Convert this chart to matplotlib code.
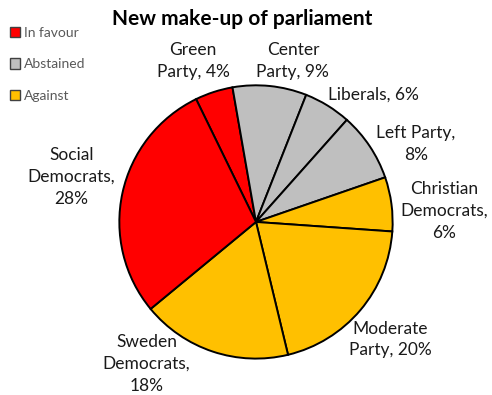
import matplotlib.pyplot as plt
from matplotlib.patches import Patch

# 2018 Swedish general election, vote shares (%)
parties = ["Green\nParty", "Center\nParty", "Liberals", "Left Party,",
           "Christian\nDemocrats,", "Moderate\nParty", "Sweden\nDemocrats,",
           "Social\nDemocrats,"]
shares = [4.4, 8.6, 5.5, 8.0, 6.3, 19.8, 17.5, 28.3]
stance = ["In favour", "Abstained", "Abstained", "Abstained",
          "Against", "Against", "Against", "In favour"]

stance_colors = {"In favour": "#FF0000", "Abstained": "#BFBFBF", "Against": "#FFC000"}

# where each label sits (pie radius = 1)
label_pos = [(-0.46, 1.18), (0.27, 1.18), (0.86, 0.93), (1.17, 0.57),
             (1.38, 0.08), (0.98, -0.86), (-0.80, -1.04), (-1.35, 0.33)]

plt.rcParams["font.family"] = ["Lato", "DejaVu Sans"]

fig = plt.figure(figsize=(4.92, 3.95), dpi=100)
ax = fig.add_axes([0.2398, 0.0886, 0.561, 0.699])

colors = [stance_colors[s] for s in stance]
ax.pie(shares, colors=colors, startangle=116, counterclock=False,
       wedgeprops={"edgecolor": "black", "linewidth": 1.4})
ax.set_xlim(-1.01, 1.01)
ax.set_ylim(-1.01, 1.01)

for name, val, (x, y) in zip(parties, shares, label_pos):
    pct = f"{round(val)}%"
    if name.endswith(","):
        txt = f"{name}\n{pct}"
    else:
        txt = f"{name}, {pct}"
    ax.text(x, y, txt, ha="center", va="center", fontsize=12.5,
            color="#1a1a1a", linespacing=1.45, clip_on=False)

fig.text(0.492, 0.952, "New make-up of parliament", ha="center", va="center",
         fontsize=15, fontweight="bold")

handles = [Patch(facecolor=c, edgecolor="#404040", label=s)
           for s, c in stance_colors.items()]
fig.legend(handles=handles, loc="upper left", bbox_to_anchor=(0.0, 0.957),
           frameon=False, fontsize=10, labelcolor="#595959",
           handlelength=0.75, handleheight=0.75, handletextpad=0.25,
           labelspacing=1.42, borderaxespad=0.3)

fig.savefig("out.png", dpi=100)
